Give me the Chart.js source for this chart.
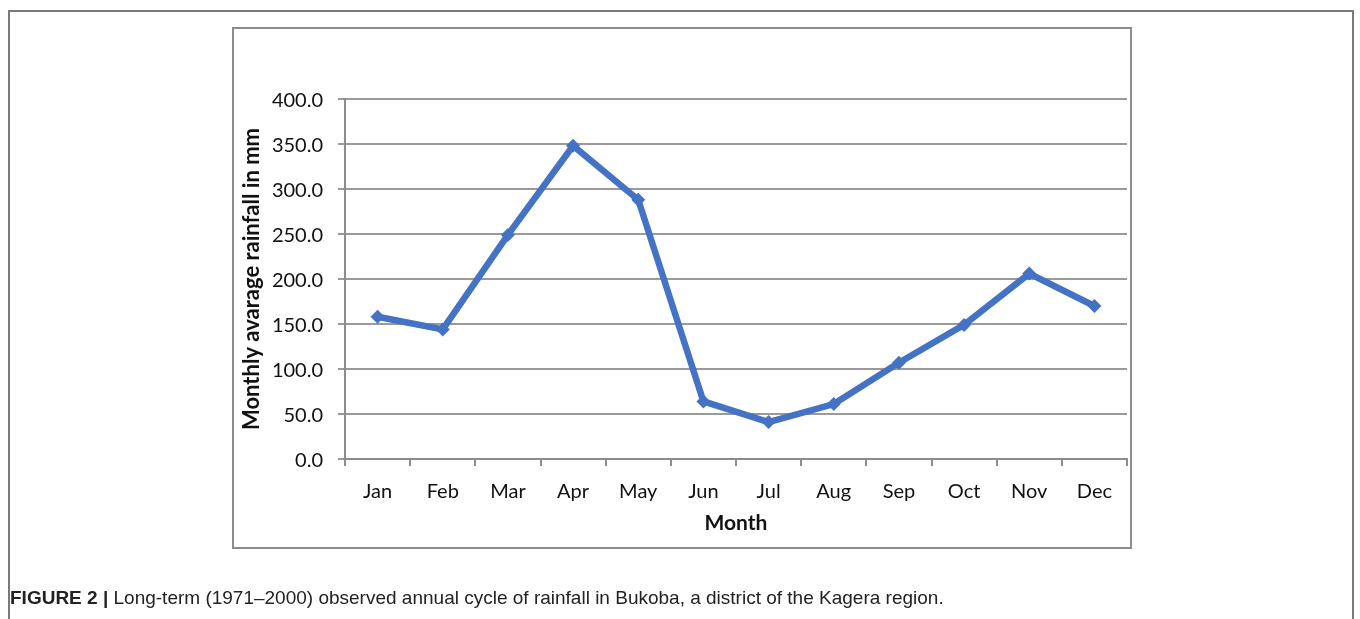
<!DOCTYPE html>
<html>
<head>
<meta charset="utf-8">
<script src="https://cdn.jsdelivr.net/npm/chart.js@4.4.1/dist/chart.umd.min.js"></script>
<style>
    html, body { margin: 0; padding: 0; background: #fff; }
    body { width: 1360px; height: 619px; position: relative; overflow: hidden; }
    #outer {
        position: absolute; left: 8px; top: 10px; width: 1346px; height: 640px;
        border: 2px solid #7a7a7a; box-sizing: border-box;
    }
    #inner {
        position: absolute; left: 232px; top: 27px; width: 900px; height: 522px;
        border: 2px solid #8c8c8c; box-sizing: border-box;
    }
    #chart { position: absolute; left: 0; top: 0; }
    #caption {
        position: absolute; left: 10px; top: 587px;
        font-family: "Liberation Sans Narrow", "Arial Narrow", "Liberation Sans", sans-serif;
        font-size: 19px; color: #222; white-space: nowrap;
    }
    #caption b { font-weight: bold; }
</style>
</head>
<body>
<div id="outer"></div>
<div id="inner"></div>
<canvas id="chart" width="1360" height="619"></canvas>
<div id="caption"><b>FIGURE 2 |</b> Long-term (1971–2000) observed annual cycle of rainfall in Bukoba, a district of the Kagera region.</div>
<script>
    const months = ['Jan', 'Feb', 'Mar', 'Apr', 'May', 'Jun', 'Jul', 'Aug', 'Sep', 'Oct', 'Nov', 'Dec'];
    const rainfall = [158, 144, 249, 348, 288, 64, 41, 61, 107, 149, 206, 170];
    const yMin = 0;
    const yMax = 400;
    const yStep = 50;

    const fontFamily = 'Lato, "Open Sans", sans-serif';

    const ctx = document.getElementById('chart').getContext('2d');
    new Chart(ctx, {
        type: 'line',
        data: {
            labels: months,
            datasets: [{
                data: rainfall,
                borderColor: '#4472c4',
                backgroundColor: '#4472c4',
                borderWidth: 6.5,
                pointStyle: 'rectRot',
                pointRadius: 7,
                pointBorderWidth: 0,
                tension: 0,
                fill: false
            }]
        },
        options: {
            responsive: false,
            animation: false,
            events: [],
            layout: { padding: { left: 232, top: 99, right: 233, bottom: 71 } },
            plugins: {
                legend: { display: false },
                tooltip: { enabled: false }
            },
            scales: {
                x: {
                    offset: true,
                    grid: {
                        offset: true,
                        drawOnChartArea: false,
                        drawTicks: true,
                        tickLength: 7,
                        color: '#8c8c8c',
                        lineWidth: 2
                    },
                    border: { color: '#8c8c8c', width: 2 },
                    ticks: {
                        color: '#111',
                        padding: 14,
                        maxRotation: 0,
                        font: { family: fontFamily, size: 20 }
                    },
                    title: {
                        display: true,
                        text: 'Month',
                        color: '#111',
                        padding: { top: 0, bottom: 12 },
                        font: { family: fontFamily, size: 21, weight: 'bold' }
                    },
                    afterFit: (scale) => { scale.height = 89; }
                },
                y: {
                    min: yMin,
                    max: yMax,
                    grid: {
                        color: '#9a9a9a',
                        lineWidth: 2,
                        tickLength: 7
                    },
                    border: { color: '#8c8c8c', width: 2 },
                    ticks: {
                        stepSize: yStep,
                        color: '#111',
                        padding: 15,
                        labelOffset: 2,
                        font: { family: fontFamily, size: 20 },
                        callback: (v) => Number(v).toFixed(1)
                    },
                    title: {
                        display: true,
                        text: 'Monthly avarage rainfall in mm',
                        color: '#111',
                        padding: { top: 7, bottom: 0 },
                        font: { family: fontFamily, size: 22, weight: 'bold' }
                    },
                    afterFit: (scale) => { scale.width = 113; }
                }
            }
        }
    });
</script>
</body>
</html>
